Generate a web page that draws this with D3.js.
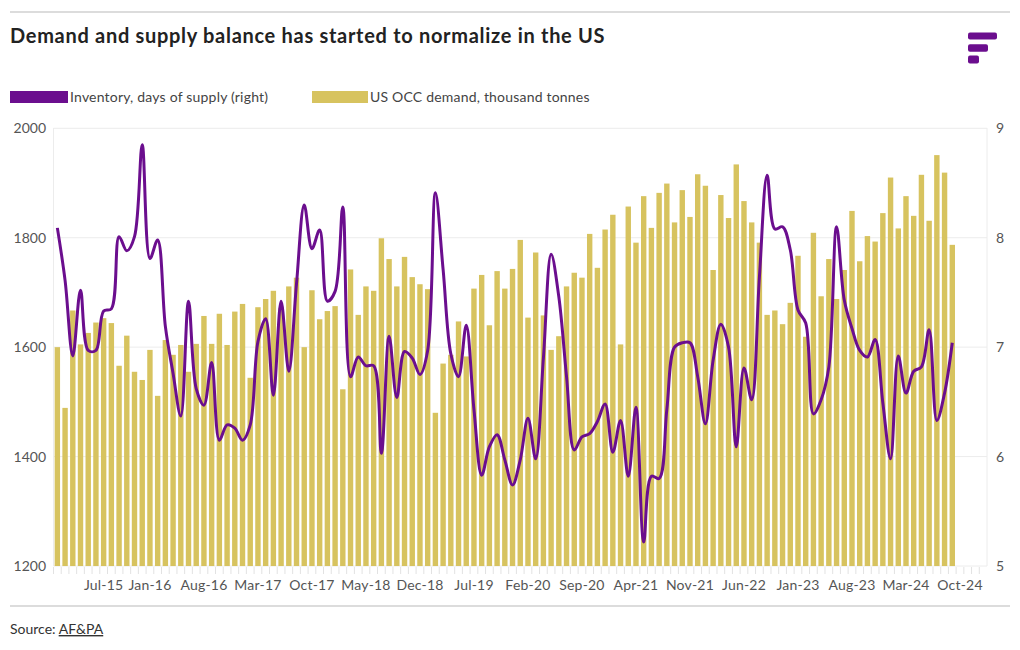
<!DOCTYPE html>
<html><head><meta charset="utf-8">
<script src="https://cdn.jsdelivr.net/npm/d3@7"></script>
<style>
html,body{margin:0;padding:0;background:#fff;}
svg{display:block;font-family:Lato,"Open Sans",sans-serif;}
</style></head>
<body>
<svg id="c" width="1020" height="650"></svg>
<script>
// ---- data ----
const startMonth = "2015-01";      // first category (Jan-15)
const axisMonths = 121;            // axis runs Jan-15 .. Jan-25
const demand = [
 1600,1489,1667,1605,1626,1645,1653,1644,1566,1621,1555,1540,1595,1511,1613,1586,1604,1555,1606,1657,
 1606,1661,1604,1665,1679,1544,1673,1688,1703,1672,1711,1727,1600,1704,1651,1666,1675,1523,1742,1659,
 1711,1703,1799,1761,1711,1765,1728,1715,1706,1480,1570,1586,1647,1583,1707,1732,1640,1739,1707,1743,
 1796,1654,1773,1658,1595,1620,1711,1736,1727,1807,1745,1815,1842,1605,1857,1791,1876,1818,1882,1899,
 1828,1887,1838,1916,1895,1741,1878,1836,1934,1867,1828,1791,1659,1667,1642,1681,1767,1619,1809,1693,
 1761,1688,1741,1849,1757,1803,1793,1845,1910,1817,1876,1840,1915,1831,1951,1919,1787
];
const inventory = [
 8.09,7.61,6.92,7.52,6.97,6.97,7.33,7.35,8.01,7.88,8.01,8.85,7.81,7.98,7.19,6.76,6.37,7.42,6.62,6.47,
 6.86,6.15,6.29,6.26,6.15,6.29,7.05,7.26,6.56,7.42,6.78,7.58,8.30,7.90,8.07,7.42,7.51,8.28,6.73,6.91,
 6.83,6.83,6.03,7.10,6.54,6.96,6.90,6.75,6.97,8.41,7.71,6.94,6.73,7.20,6.43,5.83,6.09,6.20,5.97,5.74,
 5.97,6.35,5.98,6.90,7.85,7.46,6.73,6.06,6.18,6.21,6.32,6.48,6.04,6.33,5.82,6.45,5.22,5.82,5.80,6.43,
 7.00,7.04,7.04,6.73,6.30,6.88,7.21,7.00,6.09,6.81,6.52,7.64,8.57,8.08,8.10,7.89,7.34,7.22,6.39,6.52,
 6.82,8.10,7.43,7.17,6.97,6.91,7.07,6.49,5.98,6.92,6.58,6.78,6.82,7.16,6.33,6.58,7.04
];
const tickLabels = ["Jul-15","Jan-16","Aug-16","Mar-17","Oct-17","May-18","Dec-18","Jul-19","Feb-20",
 "Sep-20","Apr-21","Nov-21","Jun-22","Jan-23","Aug-23","Mar-24","Oct-24"];
const leftTicks = [1200,1400,1600,1800,2000];
const rightTicks = [5,6,7,8,9];
const legendItems = ["Inventory, days of supply (right)","US OCC demand, thousand tonnes"];
const titleText = "Demand and supply balance has started to normalize in the US";

// ---- setup ----
const fmt = d3.utcFormat("%b-%y");
const t0 = d3.utcParse("%Y-%m")(startMonth);
const months = d3.range(axisMonths).map(i => fmt(d3.utcMonth.offset(t0, i)));
const purple = "#6b0e8e", gold = "#d7c35f";
const svg = d3.select("#c");

const x = d3.scaleBand().domain(months).range([53.5, 987]).paddingInner(0.3).paddingOuter(0.15);
const yL = d3.scaleLinear().domain([1200, 2000]).range([566, 128.3]);
const yR = d3.scaleLinear().domain([5, 9]).range([566, 128.3]);

// top & bottom rules
svg.append("line").attr("x1",10).attr("x2",1010).attr("y1",12).attr("y2",12).attr("stroke","#dcdcdc").attr("stroke-width",2);
svg.append("line").attr("x1",10).attr("x2",1010).attr("y1",606).attr("y2",606).attr("stroke","#dcdcdc").attr("stroke-width",2);

// title
svg.append("text").attr("x",10).attr("y",43).text(titleText)
  .attr("font-size",20).attr("font-weight",700).attr("letter-spacing",0.7).attr("fill","#222");

// logo
const logo = svg.append("g").attr("fill",purple);
[[968,32.5,29,7],[968,44.2,20,7.5],[968,55.6,11,7.8]].forEach(r=>{
  logo.append("rect").attr("x",r[0]).attr("y",r[1]).attr("width",r[2]).attr("height",r[3]).attr("rx",2);
});

// legend
const lg = svg.append("g").attr("font-size",14).attr("letter-spacing",0.2).attr("fill","#444");
lg.append("rect").attr("x",10).attr("y",91).attr("width",58).attr("height",12).attr("fill",purple);
lg.append("text").attr("x",70).attr("y",102).text(legendItems[0]);
lg.append("rect").attr("x",312).attr("y",91).attr("width",56).attr("height",12).attr("fill",gold);
lg.append("text").attr("x",370).attr("y",102).text(legendItems[1]);

// grid
svg.append("g").selectAll("line").data(leftTicks).join("line")
  .attr("x1",53.5).attr("x2",987).attr("y1",d=>yL(d)).attr("y2",d=>yL(d))
  .attr("stroke","#ececec").attr("stroke-width",1);
// vertical axis lines
svg.append("line").attr("x1",53.5).attr("x2",53.5).attr("y1",128).attr("y2",566).attr("stroke","#ececec");
svg.append("line").attr("x1",987).attr("x2",987).attr("y1",128).attr("y2",566).attr("stroke","#ececec");

// left axis labels
const axL = svg.append("g").attr("transform","translate(46,0)")
  .call(d3.axisLeft(yL).tickValues(leftTicks).tickSize(0).tickPadding(0).tickFormat(d3.format("d")));
axL.select(".domain").remove();
axL.selectAll("text").attr("font-size",14).attr("fill","#555").attr("font-family","Lato,sans-serif");

// right axis labels
const axR = svg.append("g").attr("transform","translate(996,0)")
  .call(d3.axisRight(yR).tickValues(rightTicks).tickSize(0).tickPadding(0).tickFormat(d3.format("d")));
axR.select(".domain").remove();
axR.selectAll("text").attr("font-size",14).attr("fill","#555").attr("font-family","Lato,sans-serif");

// bars
svg.append("g").selectAll("rect").data(demand).join("rect")
  .attr("x",(d,i)=>x(months[i])).attr("width",x.bandwidth())
  .attr("y",d=>yL(d)).attr("height",d=>yL(1200)-yL(d)).attr("fill",gold);

// small month ticks
svg.append("g").selectAll("line").data(months).join("line")
  .attr("x1",d=>x(d)-x.step()*0.15).attr("x2",d=>x(d)-x.step()*0.15)
  .attr("y1",567).attr("y2",574).attr("stroke","#e2e2e2");

// x labels
const axX = svg.append("g").attr("transform","translate(0,566)")
  .call(d3.axisBottom(x).tickValues(tickLabels).tickSize(0).tickPadding(14));
axX.select(".domain").remove();
axX.selectAll("text").attr("font-size",14).attr("letter-spacing",0.2).attr("fill","#555").attr("font-family","Lato,sans-serif");

// line
const line = d3.line().x((d,i)=>x(months[i])+x.bandwidth()/2).y(d=>yR(d)).curve(d3.curveCatmullRom.alpha(0.5));
svg.append("path").datum(inventory).attr("d",line).attr("fill","none")
  .attr("stroke",purple).attr("stroke-width",3).attr("stroke-linejoin","round");

// source
const src = svg.append("text").attr("x",10).attr("y",634).attr("font-size",14).attr("fill","#333");
src.append("tspan").text("Source: ");
src.append("tspan").text("AF&PA").attr("text-decoration","underline");
</script>
</body></html>
